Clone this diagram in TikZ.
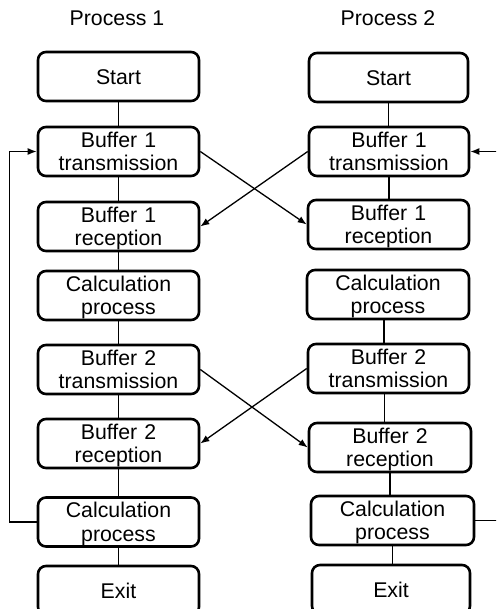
\documentclass[tikz,border=0pt]{standalone}
\usepackage{fontspec}
\setmainfont{Liberation Sans}
\usetikzlibrary{arrows.meta}
\begin{document}
\begin{tikzpicture}[x=1pt,y=-1pt,
  box/.style={draw=black,line width=2.6pt,rounded corners=8pt,rectangle,
    minimum height=49pt,inner sep=0pt},
  lbl/.style={anchor=base,align=center,text width=170pt,inner sep=0pt,
    font=\fontsize{21.3}{23.5}\selectfont},
  ttl/.style={anchor=base,inner sep=0pt,font=\fontsize{21.3}{23.5}\selectfont},
  link/.style={draw=black,line width=1.3pt},
  arr/.style={link,-{Latex[length=9pt,width=7pt]}}]
\useasboundingbox (0,0) rectangle (496,609);
\clip (0,0) rectangle (496,609);

% column titles
\node[ttl] (t1) at (117,25.7) {Process 1};
\node[ttl] (t2) at (388,25.7) {Process 2};

% process 1 boxes
\node[box,minimum width=161pt] (L1) at (118.5,76.5) {};
\node[box,minimum width=161pt] (L2) at (118.5,151.5) {};
\node[box,minimum width=161pt] (L3) at (118.5,226.5) {};
\node[box,minimum width=161pt] (L4) at (118.5,295.5) {};
\node[box,minimum width=161pt] (L5) at (118.5,369.5) {};
\node[box,minimum width=161pt] (L6) at (118.5,443.5) {};
\node[box,minimum width=161pt] (L7) at (118.5,522) {};
\node[box,minimum width=161pt] (L8) at (118.5,590.5) {};

% process 2 boxes
\node[box,minimum width=159pt] (R1) at (388.5,77.5) {};
\node[box,minimum width=160pt] (R2) at (389,151.5) {};
\node[box,minimum width=161pt] (R3) at (388.5,224.5) {};
\node[box,minimum width=162pt] (R4) at (388,294.5) {};
\node[box,minimum width=161pt] (R5) at (388.5,368.5) {};
\node[box,minimum width=162pt] (R6) at (390,447.5) {};
\node[box,minimum width=163pt] (R7) at (392.5,520.5) {};
\node[box,minimum width=158pt] (R8) at (391,589.5) {};

% box texts: one-line labels sit 7.7 below the centre, two-line ones 4.3 above
\node[lbl] (L1t) at ([yshift=-7.7pt]L1.center) {Start};
\node[lbl] (L2t) at ([yshift=4.3pt]L2.center) {Buffer 1\\transmission};
\node[lbl] (L3t) at ([yshift=4.3pt]L3.center) {Buffer 1\\reception};
\node[lbl] (L4t) at ([yshift=4.3pt]L4.center) {Calculation\\process};
\node[lbl] (L5t) at ([yshift=4.3pt]L5.center) {Buffer 2\\transmission};
\node[lbl] (L6t) at ([yshift=4.3pt]L6.center) {Buffer 2\\reception};
\node[lbl] (L7t) at ([yshift=4.3pt]L7.center) {Calculation\\process};
\node[lbl] (L8t) at ([yshift=-7.7pt]L8.center) {Exit};

\node[lbl] (R1t) at ([yshift=-7.7pt]R1.center) {Start};
\node[lbl] (R2t) at ([yshift=4.3pt]R2.center) {Buffer 1\\transmission};
\node[lbl] (R3t) at ([yshift=4.3pt]R3.center) {Buffer 1\\reception};
\node[lbl] (R4t) at ([yshift=4.3pt]R4.center) {Calculation\\process};
\node[lbl] (R5t) at ([yshift=4.3pt]R5.center) {Buffer 2\\transmission};
\node[lbl] (R6t) at ([yshift=4.3pt]R6.center) {Buffer 2\\reception};
\node[lbl] (R7t) at ([yshift=4.3pt]R7.center) {Calculation\\process};
\node[lbl] (R8t) at ([yshift=-7.7pt]R8.center) {Exit};

% sequence links inside each column
\foreach \a/\b in {L1/L2,L2/L3,L3/L4,L4/L5,L5/L6,L6/L7,L7/L8,R1/R2,R2/R3,R6/R7,R7/R8}
  \draw[link] (\a.south) -- (\a.south |- \b.north);
\draw[link] ([xshift=-4pt]R4.south) -- ([xshift=-4pt]R4.south |- R5.north);
\draw[link] ([xshift=-4pt]R5.south) -- ([xshift=-4pt]R5.south |- R6.north);

% buffer exchanges between the two processes
\draw[arr] (L2.east) -- (R3.west);
\draw[arr] (R2.west) -- (L3.east);
\draw[arr] (L5.east) -- (R6.west);
\draw[arr] (R5.west) -- (L6.east);

% loop back to the first transmission
\draw[arr] (L7.west) -- ([xshift=-27pt]L7.west) |- (L2.west);
\coordinate (rin) at (500,151.5);
\coordinate (rout) at (500,520.5);
\draw[arr] (rin) -- (R2.east);
\draw[link] (R7.east) -- (rout);
\end{tikzpicture}
\end{document}
